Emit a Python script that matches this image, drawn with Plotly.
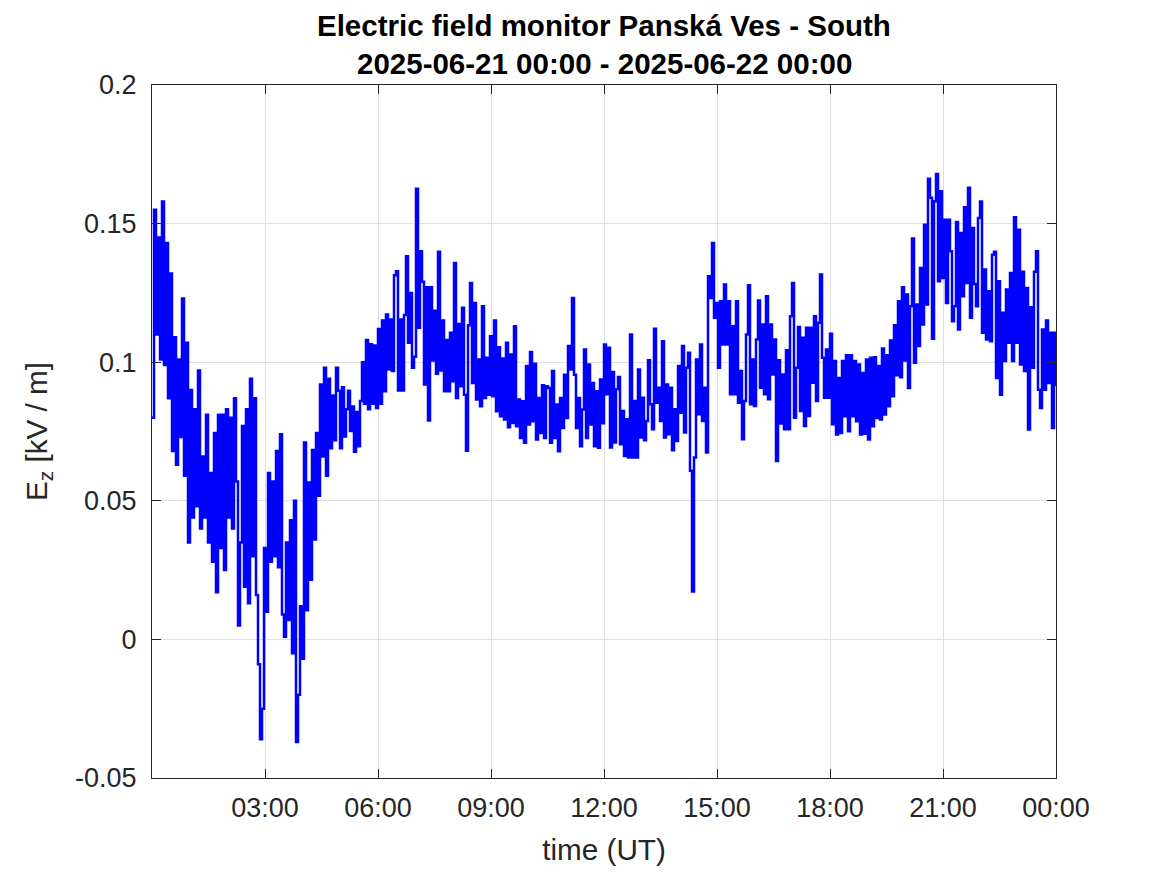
import pandas as pd
import plotly.graph_objects as go

# ---- data -------------------------------------------------------------
title_line1 = "Electric field monitor Panská Ves - South"
title_line2 = "2025-06-21 00:00 - 2025-06-22 00:00"
t_start = "2025-06-21 00:00"
t_end = "2025-06-22 00:00"

x_tick_times = ["2025-06-21 03:00", "2025-06-21 06:00", "2025-06-21 09:00",
                "2025-06-21 12:00", "2025-06-21 15:00", "2025-06-21 18:00",
                "2025-06-21 21:00", "2025-06-22 00:00"]
x_tick_labels = ["03:00", "06:00", "09:00", "12:00", "15:00", "18:00", "21:00", "00:00"]
y_tick_values = [-0.05, 0, 0.05, 0.1, 0.15, 0.2]
y_tick_labels = ["-0.05", "0", "0.05", "0.1", "0.15", "0.2"]

# Ez [kV/m], evenly spaced through the day
ez = [
    0.080, 0.155, 0.110, 0.145, 0.101, 0.158, 0.099, 0.143, 0.087, 0.132,
    0.068, 0.109, 0.063, 0.101, 0.073, 0.123, 0.059, 0.107, 0.035, 0.090,
    0.044, 0.083, 0.048, 0.097, 0.040, 0.066, 0.044, 0.081, 0.035, 0.060,
    0.028, 0.0745, 0.017, 0.081, 0.033, 0.081, 0.025, 0.083, 0.044, 0.080,
    0.040, 0.087, 0.057, 0.005, 0.035, 0.077, 0.019, 0.083, 0.013, 0.094,
    0.030, 0.087, 0.016, -0.009, -0.036, -0.025, 0.033, 0.010, 0.060, 0.028,
    0.057, 0.030, 0.068, 0.026, 0.074, 0.009, 0.001, 0.035, 0.007, 0.043,
    -0.005, 0.050, -0.037, -0.020, 0.012, -0.007, 0.071, 0.0105, 0.0566, 0.0215,
    0.0683, 0.036, 0.0745, 0.0518, 0.092, 0.066, 0.098, 0.059, 0.094, 0.069,
    0.088, 0.0718, 0.098, 0.0897, 0.069, 0.091, 0.0732, 0.083, 0.0897, 0.0752,
    0.084, 0.0677, 0.082, 0.0697, 0.086, 0.100, 0.085, 0.108, 0.083, 0.1065,
    0.085, 0.106, 0.0835, 0.112, 0.085, 0.115, 0.0895, 0.1172, 0.0974, 0.1154,
    0.0968, 0.1314, 0.1328, 0.0898, 0.1154, 0.0898, 0.117, 0.1382, 0.107, 0.125,
    0.098, 0.102, 0.1626, 0.1124, 0.14, 0.129, 0.092, 0.127, 0.079, 0.127,
    0.1006, 0.1186, 0.0958, 0.1398, 0.097, 0.115, 0.0895, 0.108, 0.0895, 0.1106,
    0.0931, 0.1358, 0.0871, 0.1138, 0.0913, 0.1196, 0.0883, 0.0681, 0.1133, 0.1286,
    0.0925, 0.1214, 0.0865, 0.101, 0.0841, 0.1202, 0.0871, 0.1016, 0.0883, 0.1094,
    0.0877, 0.115, 0.0823, 0.1054, 0.0805, 0.1013, 0.0793, 0.107, 0.0765, 0.1028,
    0.0781, 0.113, 0.0769, 0.0865, 0.0727, 0.0859, 0.0709, 0.0986, 0.0775, 0.1037,
    0.0787, 0.0994, 0.0721, 0.0871, 0.0745, 0.0917, 0.0727, 0.0913, 0.0907, 0.0709,
    0.0968, 0.0727, 0.0847, 0.0679, 0.0871, 0.0763, 0.0955, 0.0799, 0.1058, 0.0974,
    0.1232, 0.0955, 0.0763, 0.0871, 0.0697, 0.0829, 0.1046, 0.0727, 0.0992, 0.0775,
    0.0925, 0.0697, 0.0895, 0.0691, 0.0938, 0.078, 0.1064, 0.0884, 0.1052, 0.0692,
    0.0965, 0.071, 0.0902, 0.0947, 0.0704, 0.0824, 0.0662, 0.0794, 0.0656, 0.110,
    0.0656, 0.086, 0.0656, 0.0974, 0.0728, 0.0872, 0.0718, 0.0788, 0.1007, 0.0848,
    0.0758, 0.1121, 0.0854, 0.0908, 0.0788, 0.1076, 0.0728, 0.092, 0.074, 0.0908,
    0.0682, 0.083, 0.0716, 0.0986, 0.0818, 0.1058, 0.0746, 0.098, 0.1034, 0.0608,
    0.0173, 0.0656, 0.101, 0.0812, 0.1064, 0.0788, 0.0908, 0.0674, 0.131, 0.1232,
    0.143, 0.116, 0.1214, 0.098, 0.122, 0.1064, 0.128, 0.1064, 0.122, 0.0884,
    0.113, 0.0884, 0.122, 0.0854, 0.0968, 0.0722, 0.086, 0.11, 0.1278, 0.0848,
    0.101, 0.0842, 0.1082, 0.1223, 0.0908, 0.1136, 0.0884, 0.1238, 0.0866, 0.1136,
    0.0956, 0.1082, 0.0644, 0.1007, 0.0779, 0.0956, 0.0758, 0.1043, 0.0758, 0.1166,
    0.1286, 0.08, 0.098, 0.1127, 0.0824, 0.1088, 0.077, 0.1124, 0.0806, 0.1124,
    0.0926, 0.1166, 0.086, 0.1142, 0.1316, 0.1016, 0.0872, 0.1046, 0.0872, 0.1103,
    0.0776, 0.1004, 0.0739, 0.0943, 0.0745, 0.1004, 0.0805, 0.1025, 0.0751, 0.1025,
    0.0805, 0.1004, 0.0787, 0.0992, 0.0739, 0.0961, 0.0742, 0.101, 0.0721, 0.1016,
    0.0769, 0.1018, 0.0799, 0.0986, 0.0793, 0.1049, 0.0811, 0.1025, 0.0841, 0.1078,
    0.0877, 0.1133, 0.0953, 0.122, 0.0946, 0.127, 0.1006, 0.1244, 0.0907, 0.1202,
    0.1446, 0.0998, 0.1208, 0.1058, 0.134, 0.1136, 0.1496, 0.1208, 0.1662, 0.1593,
    0.1085, 0.1581, 0.1679, 0.1292, 0.1617, 0.1304, 0.1514, 0.1214, 0.1514, 0.14,
    0.1148, 0.1202, 0.1506, 0.1118, 0.1466, 0.1238, 0.1559, 0.1286, 0.1629, 0.116,
    0.1484, 0.1282, 0.1202, 0.152, 0.158, 0.1106, 0.1334, 0.1082, 0.1256, 0.1076,
    0.1388, 0.1398, 0.0943, 0.1292, 0.0883, 0.1178, 0.1004, 0.1262, 0.107, 0.1322,
    0.1004, 0.1523, 0.107, 0.1478, 0.0992, 0.1326, 0.0968, 0.1268, 0.0757, 0.1198,
    0.098, 0.1326, 0.14, 0.0901, 0.0835, 0.1118, 0.0901, 0.115, 0.0925, 0.1106,
    0.0763, 0.1106, 0.0913,
]

times = pd.date_range(t_start, t_end, periods=len(ez))

# ---- figure -----------------------------------------------------------
FONT = "Liberation Sans, Arial, Helvetica, sans-serif"
AX = "#262626"
GRID = "#dfdfdf"

fig = go.Figure()
fig.add_trace(go.Scatter(
    x=times, y=ez, mode="lines",
    line=dict(color="#0000ff", width=2.5, shape="hv"),
    showlegend=False, hoverinfo="skip",
))

axis_common = dict(
    showline=True, linecolor=AX, linewidth=1, mirror="ticks",
    ticks="inside", ticklen=9, tickwidth=1, tickcolor=AX,
    showgrid=True, gridcolor=GRID, gridwidth=1, zeroline=False,
    tickfont=dict(family=FONT, size=27, color=AX),
)

fig.update_layout(
    width=1167, height=875,
    margin=dict(l=144, r=119, t=77, b=105),
    paper_bgcolor="white", plot_bgcolor="white",
    font=dict(family=FONT, color=AX),
    xaxis=dict(
        type="date", range=[t_start, t_end],
        tickmode="array", tickvals=x_tick_times, ticktext=x_tick_labels,
        ticklabelstandoff=6,
        title=dict(text="time (UT)", font=dict(family=FONT, size=29.7, color=AX), standoff=16),
        **axis_common,
    ),
    yaxis=dict(
        range=[-0.05, 0.2],
        tickmode="array", tickvals=y_tick_values, ticktext=y_tick_labels,
        ticklabelstandoff=9,
        title=dict(text="E<sub>z</sub> [kV / m]", font=dict(family=FONT, size=29.7, color=AX), standoff=18),
        **axis_common,
    ),
    annotations=[
        dict(text=f"<b>{title_line1}</b>", xref="paper", yref="paper", x=0.5, y=1,
             xanchor="center", yanchor="middle", yshift=60, showarrow=False,
             font=dict(family=FONT, size=29.5, color="black")),
        dict(text=f"<b>{title_line2}</b>", xref="paper", yref="paper", x=0.5, y=1,
             xanchor="center", yanchor="middle", yshift=22, showarrow=False,
             font=dict(family=FONT, size=29.5, color="black")),
    ],
)

fig.write_html("out.html")
